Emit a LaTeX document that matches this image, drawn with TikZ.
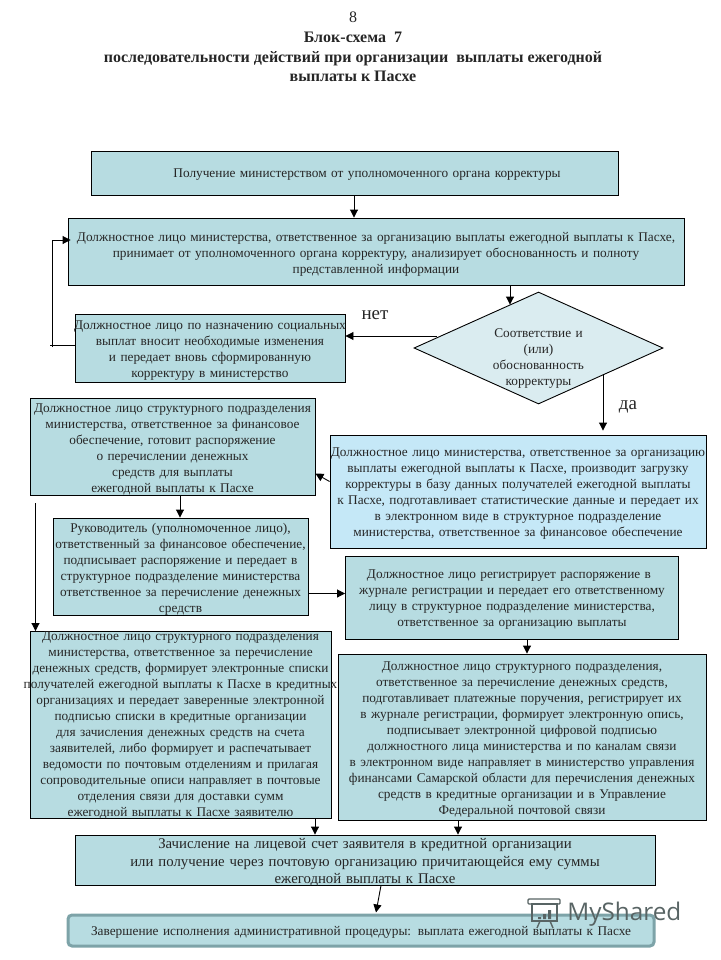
\documentclass[tikz,border=0pt]{standalone}
\usepackage{fontspec}
\setmainfont{Liberation Serif}
\newfontfamily\markfont{Open Sans}
\usetikzlibrary{calc}
\usetikzlibrary{arrows.meta}
\usetikzlibrary{shapes.geometric}
\definecolor{boxteal}{RGB}{183,220,225}
\definecolor{boxblue}{RGB}{197,232,247}
\definecolor{boxpale}{RGB}{218,236,240}
\definecolor{boxedge}{RGB}{125,163,168}
\definecolor{markgray}{RGB}{88,100,100}
\begin{document}
\begin{tikzpicture}[x=1pt, y=1pt, >={Triangle[length=8pt,width=8pt]}, line width=0.9pt,
  main/.style 2 args = {draw, fill=boxteal, inner sep=0pt, align=center, text=black!85, font=\fontsize{13.3}{16}\selectfont, text width=#1, minimum width=#1, minimum height=#2, execute at end node={\endgraf\vspace*{-5pt}}},
  decision/.style = {draw, fill=boxpale, diamond, shape aspect=2.22, inner sep=0pt, align=center, text=black!85, font=\fontsize{13.3}{16}\selectfont, text width=110pt, text height=0pt, text depth=22pt, minimum width=249pt, minimum height=112pt},
  answer/.style = {font=\fontsize{19}{20}\selectfont, text=black!85}]
\useasboundingbox (0,0) rectangle (720,-960);
\node[align=center, text=black!85, font=\fontsize{16}{19.6}\selectfont] (0) at (353,-47) {8\\ \bfseries Блок-схема~~7\\ \bfseries последовательности действий при организации~ выплаты ежегодной\\ \bfseries выплаты к Пасхе};
\node[main={527pt}{44pt}] (1) at (354.5,-173) {\hspace*{25pt}Получение министерством от уполномоченного органа корректуры};
\node[main={616pt}{67pt}] (2) [below of=1, node distance=78.5pt, xshift=21.5pt] {Должностное лицо министерства, ответственное за организацию выплаты ежегодной выплаты к Пасхе,\\ принимает от уполномоченного органа корректуру, анализирует обоснованность и полноту\\ представленной информации};
\node[main={270pt}{68pt}] (4) [below of=2, node distance=96.5pt, xshift=-166pt] {\makebox[0pt]{Должностное лицо по назначению социальных}\\ выплат  вносит необходимые изменения\\ и передает вновь сформированную\\ корректуру в министерство};
\node[decision] (3) [right of=4, node distance=328.5pt] {Соответствие и\\ (или)\\ обоснованность\\ корректуры};
\node[main={285pt}{97pt}] (6) [below of=4, node distance=98.5pt, xshift=-37.5pt] {Должностное лицо структурного подразделения\\ министерства, ответственное за финансовое\\ обеспечение, готовит распоряжение\\ о перечислении денежных\\ средств для выплаты\\ ежегодной выплаты к Пасхе};
\node[main={376pt}{113pt}, fill=boxblue] (5) [below of=3, node distance=143.5pt, xshift=-20.5pt] {Должностное лицо министерства, ответственное за организацию\\ выплаты ежегодной выплаты к Пасхе, производит загрузку\\ корректуры  в базу данных получателей ежегодной выплаты\\ к Пасхе,  подготавливает статистические данные и передает их\\ в электронном виде в  структурное подразделение\\ министерства,  ответственное за финансовое обеспечение};
\node[main={255pt}{97pt}] (7) [below of=6, node distance=120pt, xshift=8pt] {Руководитель  (уполномоченное лицо),\\ ответственный за финансовое обеспечение,\\ подписывает распоряжение и передает в\\ структурное подразделение министерства\\ ответственное за перечисление денежных\\ средств};
\node[main={333pt}{83pt}] (8) [below of=5, node distance=106pt, xshift=-6pt] {\hspace*{-6pt}Должностное лицо регистрирует  распоряжение в\\ журнале регистрации и передает его ответственному\\ лицу в структурное подразделение министерства,\\ ответственное за организацию выплаты};
\node[main={301pt}{187pt}] (9) [below of=7, node distance=158.5pt] {Должностное лицо  структурного подразделения\\ министерства, ответственное за перечисление\\ денежных средств, формирует электронные списки\\ \makebox[0pt]{получателей ежегодной выплаты к Пасхе в кредитных}\\ организациях  и передает заверенные электронной\\ подписью списки в кредитные организации\\ для зачисления  денежных средств на счета\\ заявителей, либо формирует и распечатывает\\ ведомости по почтовым отделениям и прилагая\\ сопроводительные описи направляет в почтовые\\ отделения связи для доставки сумм\\ ежегодной выплаты к Пасхе заявителю\endgraf\vspace*{4pt}};
\node[main={368pt}{166pt}] (10) [below of=8, node distance=139.5pt, xshift=10pt] {Должностное лицо структурного подразделения,\\ ответственное за перечисление денежных средств,\\ подготавливает платежные поручения, регистрирует их\\ в журнале регистрации, формирует электронную опись,\\ подписывает электронной цифровой подписью\\ должностного лица министерства и  по каналам связи\\ в электронном виде направляет  в министерство управления\\ финансами Самарской области для перечисления денежных\\ средств в кредитные организации и в Управление\\ Федеральной почтовой связи};
\node[main={580pt}{50pt}, font=\fontsize{14.8}{17.5}\selectfont] (11) [below of=9, node distance=135pt, xshift=184.5pt] {Зачисление на лицевой счет заявителя в кредитной организации\\ или  получение через почтовую организацию  причитающейся ему суммы\\ ежегодной выплаты к Пасхе};
\node[main={586pt}{31pt}, draw=boxedge, line width=3pt, rounded corners=4pt] (12) [below of=11, node distance=70.5pt, xshift=-4pt] {Завершение исполнения административной процедуры: выплата ежегодной выплаты к Пасхе};
\node[answer] (13) at (375,-315) {нет};
\node[answer] (14) at (628,-407) {да};
\draw[->] ([xshift=-0.5pt]1.south) -- ([xshift=-22pt]2.north);
\draw[->] ([xshift=134pt]2.south) -- ([xshift=-28.5pt,yshift=-13pt]3.north);
\draw[->] ([xshift=-101.5pt,yshift=12pt]3.center) -- ([yshift=12pt]4.east);
\draw[->] ([xshift=64.5pt,yshift=-26pt]3.center) -- ([xshift=85pt,yshift=4pt]5.north);
\draw ([yshift=3pt]4.west) -- ([xshift=-25pt,yshift=3pt]4.west);
\draw[->] ([xshift=-22pt,yshift=1pt]4.west) |- ([xshift=3pt,yshift=11.5pt]2.west);
\draw[->] ([yshift=10pt]5.west) -- ([yshift=-27pt]6.east);
\draw[->] ([xshift=7.5pt]6.south) -- ([xshift=-0.5pt]7.north);
\draw[->] ([xshift=-137pt,yshift=-8pt]6.south) -- ([xshift=-145pt]9.north);
\draw[->] ([yshift=-27pt]7.east) -- ([yshift=4pt]8.west);
\draw[->] ([xshift=15pt]8.south) -- ([xshift=5pt]10.north);
\draw[->] ([xshift=134.5pt]9.south) -- ([xshift=-50pt]11.north);
\draw[->] ([xshift=-64pt]10.south) -- ([xshift=93pt]11.north);
\draw[->] ([xshift=16pt]11.south) -- ([xshift=15pt,yshift=1pt]12.north);
\node[font=\fontsize{24.3}{26}\markfont, text=markgray, inner sep=0pt, anchor=west] (15) at (567,-914) {MyShared};
\draw[markgray, line width=1.4pt, rounded corners=1pt] (528,-899) rectangle (560,-904);
\draw[markgray, line width=1.4pt] (532,-904) rectangle (557,-921);
\draw[markgray, line width=1.4pt] (540,-921) -- (537,-928) (550,-921) -- (553,-928);
\fill[markgray] (538,-917) rectangle (541,-919) (543,-914) rectangle (546,-919) (548,-910) rectangle (551,-919);
\end{tikzpicture}
\end{document}
